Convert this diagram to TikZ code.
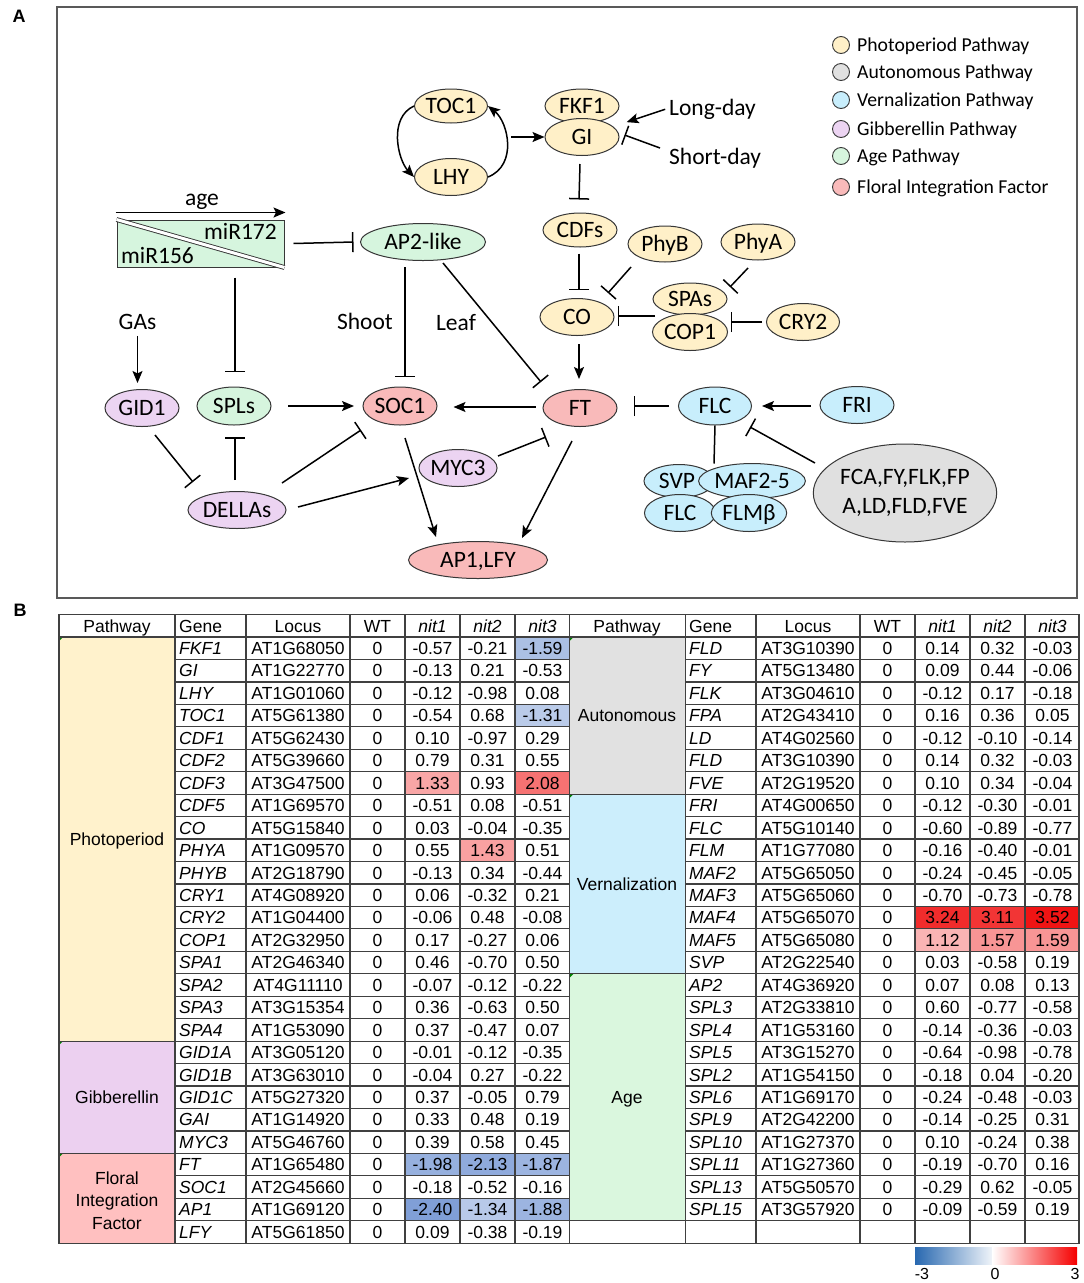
\documentclass[tikz,border=0pt]{standalone}
\usepackage{fontspec}
\setmainfont{Carlito}
\newfontfamily\mytabfam{Liberation Sans}
\usetikzlibrary{arrows.meta,shapes.geometric,calc}
\definecolor{cPhoto}{RGB}{255,240,200}
\definecolor{cAuto}{RGB}{224,224,224}
\definecolor{cVern}{RGB}{200,238,252}
\definecolor{cGib}{RGB}{236,212,242}
\definecolor{cAge}{RGB}{214,245,222}
\definecolor{cFlor}{RGB}{249,186,186}
\definecolor{tPhoto}{RGB}{255,242,204}
\definecolor{tAuto}{RGB}{225,225,225}
\definecolor{tVern}{RGB}{204,238,252}
\definecolor{tGib}{RGB}{236,208,240}
\definecolor{tAge}{RGB}{218,247,222}
\definecolor{tFlor}{RGB}{255,192,192}
\definecolor{cbB}{RGB}{68,114,196}
\definecolor{cbR}{RGB}{240,20,20}
\definecolor{barB}{RGB}{40,104,176}
\definecolor{barR}{RGB}{245,0,0}
\definecolor{gridc}{RGB}{64,64,64}
\definecolor{edgec}{RGB}{55,55,55}
\newcommand{\mynf}{\fontsize{23.5}{28}\selectfont}
\newcommand{\mynfm}{\fontsize{23.5}{29}\selectfont}
\newcommand{\mylf}{\fontsize{19.7}{23}\selectfont}
\newcommand{\mytf}{\mytabfam\fontsize{17.5}{22.5}\selectfont}
\newcommand{\myrow}[7]{%
  \pgfmathsetmacro{\myby}{637+(#2-0.5)*22.45+6.3}%
  \pgfmathsetmacro{\myox}{#1*510}%
  \node[tg] (g#1r#2) at (\myox+179,\myby) {#3};%
  \node[tt] (l#1r#2) at (\myox+298,\myby) {#4};%
  \node[tt] (w#1r#2) at (\myox+377.5,\myby) {0};%
  \node[tt] (a#1r#2) at (\myox+432.5,\myby) {#5};%
  \node[tt] (b#1r#2) at (\myox+487.5,\myby) {#6};%
  \node[tt] (c#1r#2) at (\myox+542.5,\myby) {#7};%
}
\newcommand{\mycell}[4]{%
  \fill[#4] ({#1*510+405+(#2-1)*55},{637+(#3-1)*22.45}) rectangle ++(55,22.45);%
}
\begin{document}
\begin{tikzpicture}[x=1pt,y=-1pt,
  el/.style={ellipse, draw=edgec, line width=1pt, inner sep=0pt, font=\mynf, text height=15.1pt, text depth=0pt},
  elm/.style={ellipse, draw=edgec, line width=1pt, inner sep=0pt, font=\mynfm, align=center},
  sz/.style 2 args={minimum width=#1pt, minimum height=#2pt},
  arr/.style={line width=1.5pt, -{Stealth[length=12pt,width=10pt,inset=2.5pt]}},
  inh/.style={line width=1.5pt, -{Bar[width=20pt]}},
  lbl/.style={font=\mynf, inner sep=0pt, text height=15.1pt, text depth=0pt},
  leg/.style={font=\mylf, anchor=west, inner sep=0pt, text height=12.7pt, text depth=0pt},
  legc/.style={circle, draw=edgec, line width=0.9pt, minimum size=17pt, inner sep=0pt},
  tt/.style={font=\mytf, anchor=base, inner sep=0pt},
  tg/.style={font=\mytf\itshape, anchor=base west, inner sep=0pt},
  tline/.style={draw=gridc, line width=1.2pt}]
\fill[white] (0,0) rectangle (1084,1283);
\useasboundingbox (0,0) rectangle (1084,1283);

% ---------------- Panel A ----------------
\node[font=\mytabfam\bfseries\fontsize{18}{20}\selectfont, inner sep=0pt] (labA) at (19,16) {A};
\draw[draw=gray!70!black, line width=1.3pt] (57,7) rectangle (1077,598);

% legend
\foreach \yy/\cc/\lt [count=\k] in {45/cPhoto/Photoperiod Pathway, 72/cAuto/Autonomous Pathway, 100/cVern/Vernalization Pathway, 129/cGib/Gibberellin Pathway, 156/cAge/Age Pathway, 187/cFlor/Floral Integration Factor}{
  \node[legc, fill=\cc] (lc\k) at (841,\yy) {};
  \node[leg] (lt\k) at (857,\yy) {\lt};
}

% photoperiod nodes
\node[el, fill=cPhoto, sz={73}{34}] (TOC1) at (451,106) {TOC1};
\node[el, fill=cPhoto, sz={73}{37}] (LHY) at (451,177) {LHY};
\node[el, fill=cPhoto, sz={74}{34}] (FKF1) at (582,106) {FKF1};
\node[el, fill=cPhoto, sz={74}{37}] (GI) at (582,137) {GI};
\node[el, fill=cPhoto, sz={74}{34}] (CDFs) at (580,230) {CDFs};
\node[el, fill=cPhoto, sz={74}{36}] (PhyB) at (665,244) {PhyB};
\node[el, fill=cPhoto, sz={74}{36}] (PhyA) at (758,242) {PhyA};
\node[el, fill=cPhoto, sz={74}{37}] (CO) at (577,317) {CO};
\node[el, fill=cPhoto, sz={74}{32}] (SPAs) at (690,299) {SPAs};
\node[el, fill=cPhoto, sz={75}{37}] (COP1) at (690,332) {COP1};
\node[el, fill=cPhoto, sz={73}{37}] (CRY2) at (803,322) {CRY2};
\node[lbl, anchor=west] (long) at (669,108) {Long-day};
\node[lbl, anchor=west] (short) at (669,157) {Short-day};

% integration, vernalization, autonomous
\node[el, fill=cFlor, sz={74}{37}] (FT) at (580,408) {FT};
\node[el, fill=cVern, sz={73}{38}] (FLC) at (715,406) {FLC};
\node[el, fill=cVern, sz={74}{37}] (FRI) at (857,405) {FRI};
\node[el, fill=cVern, sz={70}{33}] (SVP) at (679,481) {\hspace*{-4pt}SVP};
\node[el, fill=cVern, sz={97}{35}] (MAF) at (752,481) {MAF2-5};
\node[el, fill=cVern, sz={71}{37}] (FLCb) at (680,513) {FLC};
\node[el, fill=cVern, sz={73}{37}] (FLM) at (749,513) {FLMβ};
\node[elm, fill=cAuto, sz={180}{98}] (auton) at (905,493) {FCA,FY,FLK,FP\\A,LD,FLD,FVE};

% age, GA, others
\node[draw=edgec, fill=cAge, line width=1pt, minimum width=167pt, minimum height=47pt, inner sep=0pt] (mir) at (200.5,243.5) {};
\draw[draw=edgec, line width=0.9pt, double=white, double distance=3pt] (mir.north west) -- (mir.south east);
\node[lbl, anchor=east] (m172) at (277,232) {miR172};
\node[lbl, anchor=west] (m156) at (121,256) {miR156};
\node[lbl] (age) at (202,198) {age};
\node[el, fill=cAge, sz={125}{37}] (AP2) at (423,242) {AP2-like};
\node[el, fill=cGib, sz={74}{37}] (GID1) at (142,408) {GID1};
\node[el, fill=cAge, sz={74}{38}] (SPLs) at (234,406) {SPLs};
\node[el, fill=cFlor, sz={74}{38}] (SOC1) at (400,406) {SOC1};
\node[el, fill=cGib, sz={98}{37}] (DELLAs) at (237,510) {DELLAs};
\node[el, fill=cGib, sz={74}{37}] (MYC3) at (458,468) {MYC3};
\node[el, fill=cFlor, sz={139}{37}] (AP1) at (478,560) {AP1,LFY};
\node[lbl] (GAs) at (137.5,322) {GAs};
\node[lbl] (shoot) at (365,322) {Shoot};
\node[lbl] (leaf) at (456,323) {Leaf};

% connectors
\coordinate (cyc) at (511,137);
\draw[arr] (TOC1.west) .. controls (388,118) and (398,160) .. (LHY.west);
\draw[arr] (LHY.east) .. controls (518,165) and (508,122) .. (TOC1.east);
\draw[arr] (cyc) -- (GI.west);
\draw[arr, shorten <=4pt, shorten >=14pt] (long.west) -- (GI);
\draw[inh] ($(short.west)+(-9,-9)$) -- ($(GI.east)+(5,-2)$);
\draw[inh] ($(GI.south)+(-2,8)$) -- ($(CDFs.north)+(-1,-13)$);
\draw[inh] ($(CDFs.south)+(-1,6)$) -- ($(CO.north)+(2,-8)$);
\draw[inh] ($(PhyB)+(-34,23)$) -- ($(CO)+(31,-24)$);
\draw[inh] ($(PhyA)+(-10,26)$) -- ($(SPAs)+(40,-12)$);
\draw[inh] ($(COP1.west)+(3,-16)$) -- ($(CO.east)+(3,-1)$);
\draw[inh] ($(CRY2.west)+(-4,0)$) -- ($(COP1.east)+(2.5,-10)$);
\draw[arr] ($(CO.south)+(2,8)$) -- ($(FT.north)+(-1,-10)$);
\draw[arr] ($(FT.west)+(-7,-1)$) -- ($(SOC1.east)+(16,1)$);
\draw[inh] ($(FLC.west)+(-9,0)$) -- ($(FT.east)+(16,-2)$);
\draw[arr] ($(FRI.west)+(-9,1)$) -- ($(FLC.east)+(10,0)$);
\draw[inh] ($(auton)+(-90,-30)$) -- ($(FLC)+(35,21)$);
\draw[line width=1.5pt] (FLC.south) -- ($(FLC.south)+(-1,38)$);
\draw[arr] ($(FT)+(-8,33)$) -- ($(AP1)+(44,-22)$);
\draw[arr] ($(SOC1)+(5,32)$) -- ($(AP1)+(-42,-23)$);
\draw[inh] ($(MYC3)+(40,-12)$) -- ($(FT)+(-34,29)$);
\draw[arr] ($(DELLAs)+(61,-3)$) -- ($(MYC3)+(-49,10)$);
\draw[inh] ($(DELLAs)+(45,-27)$) -- ($(SOC1)+(-39,24)$);
\draw[inh] ($(DELLAs)+(-2,-30)$) -- ($(SPLs)+(1,31)$);
\draw[inh] ($(GID1)+(13,27)$) -- ($(DELLAs)+(-44,-28)$);
\draw[arr] ($(SPLs.east)+(16.5,0)$) -- ($(SOC1.west)+(-8.5,0)$);
\draw[inh] ($(AP2)+(-18,25)$) -- ($(SOC1)+(5,-29)$);
\draw[inh] ($(AP2)+(20,21)$) -- ($(FT)+(-39,-26)$);
\draw[inh] ($(mir.east)+(9,0)$) -- ($(AP2.west)+(-6.5,0)$);
\draw[inh] ($(mir.south)+(34.5,10)$) -- ($(SPLs)+(1,-34)$);
\draw[arr] ($(GAs.south)+(0,6)$) -- ($(GID1.north)+(-4.5,-6)$);
\draw[arr] ($(mir.north west)+(-1,-7)$) -- ($(mir.north east)+(1,-7)$);

% ---------------- Panel B ----------------
\node[font=\mytabfam\bfseries\fontsize{18}{20}\selectfont, inner sep=0pt] (labB) at (20,610) {B};

% pathway fills
\fill[tPhoto] (59,637) rectangle (175,1041.1);
\fill[tGib] (59,1041.1) rectangle (175,1153.35);
\fill[tFlor] (59,1153.35) rectangle (175,1243.15);
\fill[tAuto] (569.5,637) rectangle (685.5,794.15);
\fill[tVern] (569.5,794.15) rectangle (685.5,973.75);
\fill[tAge] (569.5,973.75) rectangle (685.5,1220.7);

% highlighted cells
\mycell{0}{3}{1}{cbB!45}
\mycell{0}{3}{4}{cbB!37}
\mycell{0}{1}{7}{cbR!38}
\mycell{0}{3}{7}{cbR!60}
\mycell{0}{2}{10}{cbR!40}
\mycell{0}{1}{24}{cbB!56}
\mycell{0}{2}{24}{cbB!60}
\mycell{0}{3}{24}{cbB!53}
\mycell{0}{1}{26}{cbB!68}
\mycell{0}{2}{26}{cbB!38}
\mycell{0}{3}{26}{cbB!53}
\mycell{1}{1}{13}{cbR!90}
\mycell{1}{2}{13}{cbR!86}
\mycell{1}{3}{13}{cbR!100}
\mycell{1}{1}{14}{cbR!32}
\mycell{1}{2}{14}{cbR!45}
\mycell{1}{3}{14}{cbR!45}

% comment markers
\foreach \xx/\yy in {59/637, 59/1041.1, 59/1153.35, 569.5/637, 569.5/794.15, 569.5/973.75}{
  \fill[green!50!black] (\xx,\yy) -- ++(4,0) -- ++(-4,4) -- cycle;
}

% grid
\foreach \i in {1,...,26}{
  \draw[tline] (175,{637+\i*22.45}) -- (569.5,{637+\i*22.45});
  \draw[tline] (685.5,{637+\i*22.45}) -- (1079,{637+\i*22.45});
}
\draw[tline] (59,1041.1) -- (175,1041.1);
\draw[tline] (59,1153.35) -- (175,1153.35);
\draw[tline] (569.5,794.15) -- (685.5,794.15);
\draw[tline] (569.5,973.75) -- (685.5,973.75);
\draw[tline] (569.5,1220.7) -- (685.5,1220.7);
\foreach \xx in {175,246,350,405,460,515,569.5,685.5,756,860,915,970,1025}{
  \draw[tline] (\xx,614.5) -- (\xx,1243.15);
}
\draw[tline] (59,637) -- (1079,637);
\draw[tline] (59,614.5) rectangle (1079,1243.15);

% header
\foreach \s in {0,1}{
  \node[tt] (hp\s) at (117+\s*510,632) {Pathway};
  \node[tt, anchor=base west] (hg\s) at (179+\s*510,632) {Gene};
  \node[tt] (hl\s) at (298+\s*510,632) {Locus};
  \node[tt] (hw\s) at (377.5+\s*510,632) {WT};
  \node[tt] (ha\s) at (432.5+\s*510,632) {\itshape nit1};
  \node[tt] (hb\s) at (487.5+\s*510,632) {\itshape nit2};
  \node[tt] (hc\s) at (542.5+\s*510,632) {\itshape nit3};
}

% pathway labels
\node[tt] (pPhoto) at (117,845.3) {Photoperiod};
\node[tt] (pGib) at (117,1103.5) {Gibberellin};
\node[font=\mytf, align=center, inner sep=0pt] (pFlor) at (117,1200.4) {Floral\\Integration\\Factor};
\node[tt] (pAuto) at (627,721.9) {Autonomous};
\node[tt] (pVern) at (627,890.3) {Vernalization};
\node[tt] (pAge) at (627,1103.5) {Age};

% left rows
\myrow{0}{1}{FKF1}{AT1G68050}{-0.57}{-0.21}{-1.59}
\myrow{0}{2}{GI}{AT1G22770}{-0.13}{0.21}{-0.53}
\myrow{0}{3}{LHY}{AT1G01060}{-0.12}{-0.98}{0.08}
\myrow{0}{4}{TOC1}{AT5G61380}{-0.54}{0.68}{-1.31}
\myrow{0}{5}{CDF1}{AT5G62430}{0.10}{-0.97}{0.29}
\myrow{0}{6}{CDF2}{AT5G39660}{0.79}{0.31}{0.55}
\myrow{0}{7}{CDF3}{AT3G47500}{1.33}{0.93}{2.08}
\myrow{0}{8}{CDF5}{AT1G69570}{-0.51}{0.08}{-0.51}
\myrow{0}{9}{CO}{AT5G15840}{0.03}{-0.04}{-0.35}
\myrow{0}{10}{PHYA}{AT1G09570}{0.55}{1.43}{0.51}
\myrow{0}{11}{PHYB}{AT2G18790}{-0.13}{0.34}{-0.44}
\myrow{0}{12}{CRY1}{AT4G08920}{0.06}{-0.32}{0.21}
\myrow{0}{13}{CRY2}{AT1G04400}{-0.06}{0.48}{-0.08}
\myrow{0}{14}{COP1}{AT2G32950}{0.17}{-0.27}{0.06}
\myrow{0}{15}{SPA1}{AT2G46340}{0.46}{-0.70}{0.50}
\myrow{0}{16}{SPA2}{AT4G11110}{-0.07}{-0.12}{-0.22}
\myrow{0}{17}{SPA3}{AT3G15354}{0.36}{-0.63}{0.50}
\myrow{0}{18}{SPA4}{AT1G53090}{0.37}{-0.47}{0.07}
\myrow{0}{19}{GID1A}{AT3G05120}{-0.01}{-0.12}{-0.35}
\myrow{0}{20}{GID1B}{AT3G63010}{-0.04}{0.27}{-0.22}
\myrow{0}{21}{GID1C}{AT5G27320}{0.37}{-0.05}{0.79}
\myrow{0}{22}{GAI}{AT1G14920}{0.33}{0.48}{0.19}
\myrow{0}{23}{MYC3}{AT5G46760}{0.39}{0.58}{0.45}
\myrow{0}{24}{FT}{AT1G65480}{-1.98}{-2.13}{-1.87}
\myrow{0}{25}{SOC1}{AT2G45660}{-0.18}{-0.52}{-0.16}
\myrow{0}{26}{AP1}{AT1G69120}{-2.40}{-1.34}{-1.88}
\myrow{0}{27}{LFY}{AT5G61850}{0.09}{-0.38}{-0.19}
% right rows
\myrow{1}{1}{FLD}{AT3G10390}{0.14}{0.32}{-0.03}
\myrow{1}{2}{FY}{AT5G13480}{0.09}{0.44}{-0.06}
\myrow{1}{3}{FLK}{AT3G04610}{-0.12}{0.17}{-0.18}
\myrow{1}{4}{FPA}{AT2G43410}{0.16}{0.36}{0.05}
\myrow{1}{5}{LD}{AT4G02560}{-0.12}{-0.10}{-0.14}
\myrow{1}{6}{FLD}{AT3G10390}{0.14}{0.32}{-0.03}
\myrow{1}{7}{FVE}{AT2G19520}{0.10}{0.34}{-0.04}
\myrow{1}{8}{FRI}{AT4G00650}{-0.12}{-0.30}{-0.01}
\myrow{1}{9}{FLC}{AT5G10140}{-0.60}{-0.89}{-0.77}
\myrow{1}{10}{FLM}{AT1G77080}{-0.16}{-0.40}{-0.01}
\myrow{1}{11}{MAF2}{AT5G65050}{-0.24}{-0.45}{-0.05}
\myrow{1}{12}{MAF3}{AT5G65060}{-0.70}{-0.73}{-0.78}
\myrow{1}{13}{MAF4}{AT5G65070}{3.24}{3.11}{3.52}
\myrow{1}{14}{MAF5}{AT5G65080}{1.12}{1.57}{1.59}
\myrow{1}{15}{SVP}{AT2G22540}{0.03}{-0.58}{0.19}
\myrow{1}{16}{AP2}{AT4G36920}{0.07}{0.08}{0.13}
\myrow{1}{17}{SPL3}{AT2G33810}{0.60}{-0.77}{-0.58}
\myrow{1}{18}{SPL4}{AT1G53160}{-0.14}{-0.36}{-0.03}
\myrow{1}{19}{SPL5}{AT3G15270}{-0.64}{-0.98}{-0.78}
\myrow{1}{20}{SPL2}{AT1G54150}{-0.18}{0.04}{-0.20}
\myrow{1}{21}{SPL6}{AT1G69170}{-0.24}{-0.48}{-0.03}
\myrow{1}{22}{SPL9}{AT2G42200}{-0.14}{-0.25}{0.31}
\myrow{1}{23}{SPL10}{AT1G27370}{0.10}{-0.24}{0.38}
\myrow{1}{24}{SPL11}{AT1G27360}{-0.19}{-0.70}{0.16}
\myrow{1}{25}{SPL13}{AT5G50570}{-0.29}{0.62}{-0.05}
\myrow{1}{26}{SPL15}{AT3G57920}{-0.09}{-0.59}{0.19}

% colour bar
\shade[left color=barB, right color=white] (915,1247) rectangle (998,1264);
\shade[left color=white, right color=barR] (992,1247) rectangle (1077,1264);
\node[font=\mytabfam\fontsize{16}{18}\selectfont, anchor=base, inner sep=0pt] (cb1) at (922,1279) {-3};
\node[font=\mytabfam\fontsize{16}{18}\selectfont, anchor=base, inner sep=0pt] (cb2) at (995,1279) {0};
\node[font=\mytabfam\fontsize{16}{18}\selectfont, anchor=base, inner sep=0pt] (cb3) at (1075,1279) {3};
\end{tikzpicture}
\end{document}
